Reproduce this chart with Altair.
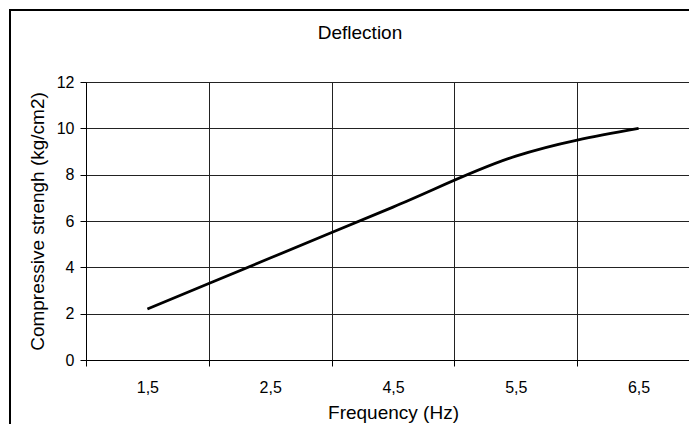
import json
import altair as alt
import pandas as pd

# ---- data ----
chart_title = "Deflection"
categories = ["1,5", "2,5", "4,5", "5,5", "6,5"]
strength = [2.2, 4.4, 6.6, 8.8, 10.0]
y_ticks = [0, 2, 4, 6, 8, 10, 12]

df = pd.DataFrame({
    "cat": categories,
    "pos": [i + 0.5 for i in range(len(categories))],
    "value": strength,
})

FONT = "Liberation Sans"
W, H = 614, 278
PAD_L, PAD_T, PAD_B, PAD_R = 78, 74, 64, -11
n = len(categories)
label_expr = json.dumps(categories) + "[datum.value] || ''"

x_enc = alt.X(
    "pos:Q",
    scale=alt.Scale(domain=[0, n], nice=False, zero=False),
    axis=alt.Axis(
        title="Frequency (Hz)",
        values=list(range(n)),
        labelExpr=label_expr,
        labelOffset=W / n / 2,
        labelFlush=False,
        labelOverlap=False,
        grid=True,
        gridColor="#222222",
        gridWidth=1,
        domainColor="#000000",
        tickColor="#000000",
        tickSize=6,
        labelPadding=13,
        labelFontSize=16,
        labelFont=FONT,
        labelColor="#000000",
        titleFont=FONT,
        titleFontSize=19,
        titleFontWeight="normal",
        titleColor="#000000",
        titlePadding=8,
    ),
)

y_enc = alt.Y(
    "value:Q",
    scale=alt.Scale(domain=[0, 12], nice=False),
    axis=alt.Axis(
        title="Compressive strengh (kg/cm2)",
        values=y_ticks,
        grid=True,
        gridColor="#222222",
        gridWidth=1,
        domainColor="#000000",
        tickColor="#000000",
        tickSize=6,
        labelPadding=6,
        labelFontSize=16,
        labelFont=FONT,
        labelColor="#000000",
        titleFont=FONT,
        titleFontSize=19,
        titleFontWeight="normal",
        titleColor="#000000",
        titlePadding=9,
    ),
)

line = alt.Chart(df).mark_line(
    color="#000000", strokeWidth=2.8, interpolate="monotone"
).encode(x=x_enc, y=y_enc)

one = pd.DataFrame({"t": [chart_title]})

frame = alt.Chart(one).mark_rect(
    fillOpacity=0, stroke="#000000", strokeWidth=2
).encode(
    x=alt.value(-76), x2=alt.value(W + 30),
    y=alt.value(-72), y2=alt.value(H + 90),
)

title = alt.Chart(one).mark_text(
    font=FONT, fontSize=19, color="#000000", align="center",
    baseline="alphabetic",
).encode(
    text="t:N", x=alt.value(274), y=alt.value(-43),
)

chart = alt.layer(line, frame, title).properties(
    width=W,
    height=H,
    autosize=alt.AutoSizeParams(type="none"),
    padding={"left": PAD_L, "top": PAD_T, "right": PAD_R, "bottom": PAD_B},
).configure_view(strokeWidth=0).configure(background="white")

chart.save("out.html", embed_options={"renderer": "svg", "actions": False})
